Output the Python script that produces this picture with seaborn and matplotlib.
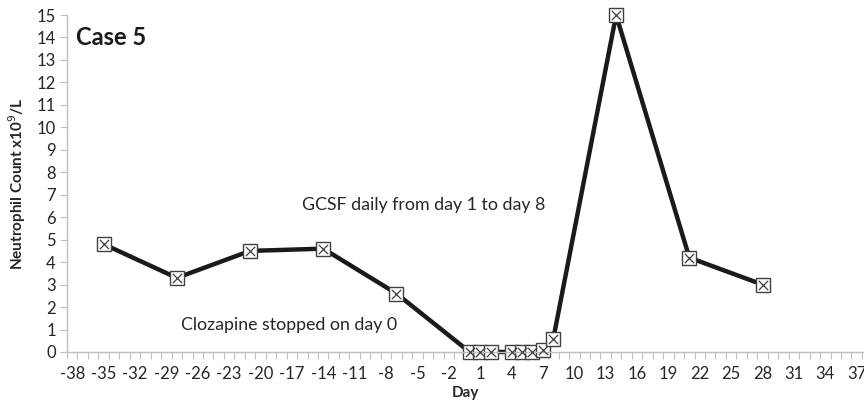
import matplotlib
matplotlib.use("Agg")
import matplotlib.pyplot as plt
import seaborn as sns
import numpy as np
import pandas as pd

days = [-35, -28, -21, -14, -7, 0, 1, 2, 4, 5, 6, 7, 8, 14, 21, 28]
counts = [4.8, 3.3, 4.5, 4.6, 2.6, 0, 0, 0, 0, 0, 0, 0.1, 0.6, 15, 4.2, 3.0]
tick_days = list(range(-38, 38, 3))
y_ticks = list(range(0, 16))

df = pd.DataFrame({"Day": days, "Count": counts})

sns.set_style("white")
plt.rcParams["font.family"] = ["Lato", "DejaVu Sans"]
plt.rcParams["axes.unicode_minus"] = False

fig = plt.figure(figsize=(8.64, 4.12), dpi=100)
ax = fig.add_axes([67 / 864, 60 / 412, 797 / 864, 337 / 412])

grey = "#bfbfbf"
sns.lineplot(data=df, x="Day", y="Count", ax=ax, color="#1a1a1a", linewidth=3.2,
             marker="s", markersize=10, markerfacecolor="white",
             markeredgecolor="#404040", markeredgewidth=1.0, clip_on=False)
sns.scatterplot(data=df, x="Day", y="Count", ax=ax, marker="x", s=45,
                color="#404040", linewidth=0.9, clip_on=False, zorder=5)

ax.set_xlim(-38.5, 37.7)
ax.set_ylim(0, 15)
ax.set_yticks(y_ticks)
ax.set_xticks(tick_days)
ax.set_xticks(np.arange(-38.5, 38, 1), minor=True)
ax.tick_params(axis="x", which="major", length=0, pad=10, labelsize=12, colors="#262626")
ax.tick_params(axis="x", which="minor", length=5, width=0.8, color=grey, bottom=True)
ax.tick_params(axis="y", which="major", length=5, width=0.8, color=grey, pad=3,
               labelsize=12, labelcolor="#262626", left=True)

for s in ["top", "right"]:
    ax.spines[s].set_visible(False)
for s in ["left", "bottom"]:
    ax.spines[s].set_color(grey)
    ax.spines[s].set_linewidth(1.0)

ax.set_xlabel("Day", fontsize=11, fontweight="bold", color="#262626", labelpad=3)
ax.set_ylabel("Neutrophil Count x10$^{9}$/L", fontsize=11, fontweight="bold",
              color="#262626", labelpad=6)

ax.text(-37.6, 14.0, "Case 5", fontsize=17, fontweight="bold", va="center", color="#1a1a1a")
ax.text(-16.0, 6.54, "GCSF daily from day 1 to day 8", fontsize=12.8, va="center", color="#262626")
ax.text(-27.6, 1.2, "Clozapine stopped on day 0", fontsize=12.8, va="center", color="#262626")

fig.savefig("out.png", dpi=100)
